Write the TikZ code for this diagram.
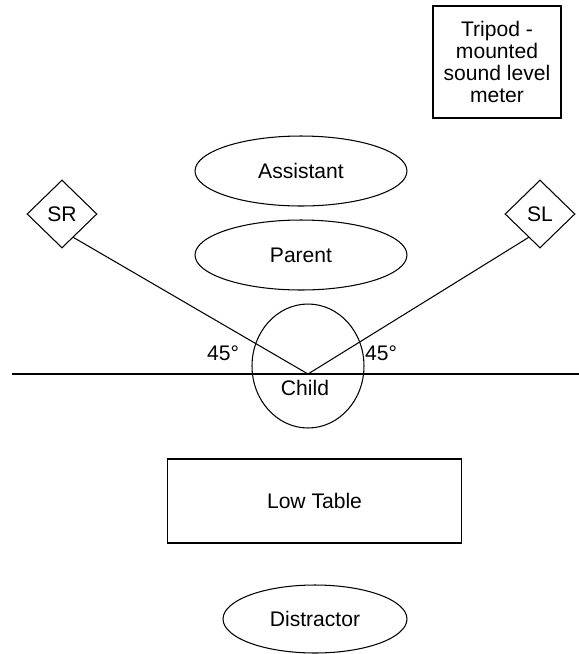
\documentclass[tikz,border=0pt]{standalone}
\usepackage{fontspec}
\setmainfont{Liberation Sans}
\usetikzlibrary{positioning,shapes.geometric}
\tikzset{
  oval/.style={draw, ellipse, inner sep=0pt},
  speaker/.style={draw, diamond, inner sep=0pt, minimum width=1.4cm, minimum height=1.36cm},
}

\begin{document}
\begin{tikzpicture}[x=0.02cm, y=-0.02cm, line width=0.6pt, font=\fontsize{12}{12.6}\selectfont]
    \useasboundingbox (0,0) rectangle (579,654);
    \node[draw, inner sep=0pt, minimum width=2.56cm, minimum height=2.24cm, align=center] (meter) at (497,62) {Tripod -\\mounted\\sound level\\meter};
    \node[oval, minimum width=4.24cm, minimum height=1.4cm] (assistant) at (301,171) {Assistant};
    \node[oval, minimum width=4.24cm, minimum height=1.4cm] (parent) at (301,255) {Parent};
    \node[speaker] (sr) at (62,214) {SR};
    \node[speaker] (sl) at (540,214) {SL};
    \node[oval, minimum width=2.24cm, minimum height=2.48cm] (child) at (308,366) {};
    \node (childlabel) at (305,388) {Child};
    \node (leftangle) at (223,353) {45°};
    \node (rightangle) at (381,353) {45°};
    \node[draw, minimum width=5.9cm, minimum height=1.68cm] (table) at (314.5,501) {Low Table};
    \node[oval, minimum width=3.68cm, minimum height=1.36cm] (distractor) at (315,619) {Distractor};
    % floor line and the two speaker lines
    \coordinate (apex) at (308,374);
    \coordinate (west) at (12,374);
    \coordinate (east) at (579,374);
    \draw (west) -- (east);
    \draw (sr.-64) -- (apex);
    \draw (sl.244) -- (apex);
\end{tikzpicture}
\end{document}
